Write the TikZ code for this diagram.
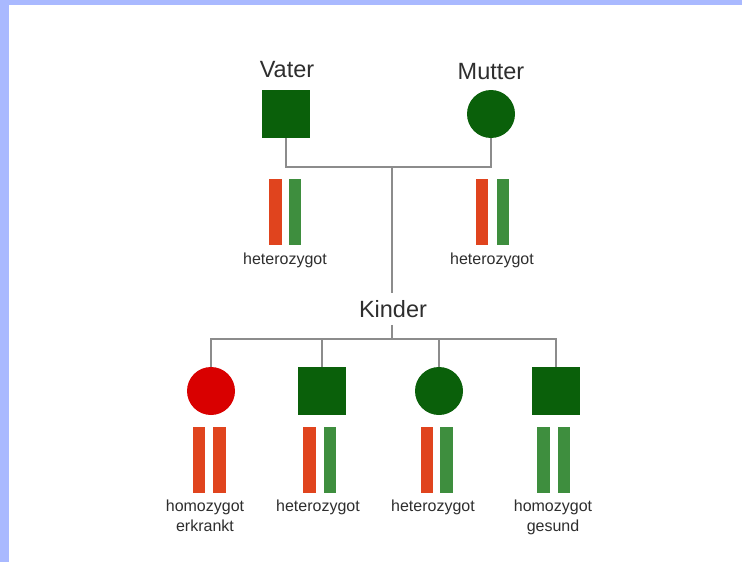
\documentclass[tikz,border=0pt]{standalone}
\usepackage{fontspec}
\setmainfont{Liberation Sans}
\definecolor{frame}{HTML}{A9B9FF}
\definecolor{darkgreen}{HTML}{0A600A}
\definecolor{sickred}{HTML}{D90000}
\definecolor{allelered}{HTML}{E0441E}
\definecolor{allelegreen}{HTML}{3E8E3E}
\definecolor{linegray}{HTML}{8C8C8C}
\definecolor{txt}{HTML}{2E2E2E}
\begin{document}
\begin{tikzpicture}[x=1pt,y=-1pt,
  male/.style={rectangle,fill=darkgreen,minimum size=48pt,inner sep=0pt},
  female/.style={circle,fill=darkgreen,minimum size=48pt,inner sep=0pt},
  sick/.style={circle,fill=sickred,minimum size=48pt,inner sep=0pt},
  bar/.style={rectangle,minimum width=12.5pt,minimum height=66pt,inner sep=0pt},
  rbar/.style={bar,fill=allelered},
  gbar/.style={bar,fill=allelegreen},
  title/.style={text=txt,font=\fontsize{23.5}{26}\selectfont,inner sep=0pt},
  lab/.style={text=txt,font=\fontsize{16}{20}\selectfont,align=center,inner sep=0pt},
  link/.style={draw=linegray,line width=1.8pt}]
% page with its blue frame
\fill[frame] (0,0) rectangle (742,562);
\fill[white] (9,5) rectangle (742,562);
\useasboundingbox (0,0) rectangle (742,562);

% parents
\node[title] (tvater) at (287,70) {Vater};
\node[title] (tmutter) at (491,72) {Mutter};
\node[male] (vater) at (286,114) {};
\node[female] (mutter) at (491,114) {};
\node[rbar] (v1) at (275.5,211.5) {};
\node[gbar] (v2) at (295,211.5) {};
\node[rbar] (m1) at (482,211.5) {};
\node[gbar] (m2) at (503,211.5) {};
\node[lab] (lv) at (285,260) {heterozygot};
\node[lab] (lm) at (492,260) {heterozygot};

% children
\node[title,inner ysep=7pt] (kinder) at (393,309) {Kinder};
\node[sick] (c1) at (211,391) {};
\node[male] (c2) at (322,391) {};
\node[female] (c3) at (439,391) {};
\node[male] (c4) at (556,391) {};
\node[rbar] (c1a) at (199,459.5) {};
\node[rbar] (c1b) at (219.5,459.5) {};
\node[rbar] (c2a) at (309.5,459.5) {};
\node[gbar] (c2b) at (330,459.5) {};
\node[rbar] (c3a) at (427,459.5) {};
\node[gbar] (c3b) at (446.5,459.5) {};
\node[gbar] (c4a) at (543.5,459.5) {};
\node[gbar] (c4b) at (564,459.5) {};
\node[lab,anchor=north] (l1) at (205,500) {homozygot\\erkrankt};
\node[lab,anchor=north] (l2) at (318,500) {heterozygot};
\node[lab,anchor=north] (l3) at (433,500) {heterozygot};
\node[lab,anchor=north] (l4) at (553,500) {homozygot\\gesund};

% pedigree lines
\coordinate (pair) at (392,167);
\coordinate (sibs) at (392,339);
\draw[link] (vater.south) |- (pair) -| (mutter.south);
\draw[link] (pair) -- (kinder.north -| pair);
\draw[link] (kinder.south -| sibs) -- (sibs);
\draw[link] (c1.north) |- (sibs) -| (c4.north);
\draw[link] (c2.north) -- (c2.north |- sibs);
\draw[link] (c3.north) -- (c3.north |- sibs);
\end{tikzpicture}
\end{document}
